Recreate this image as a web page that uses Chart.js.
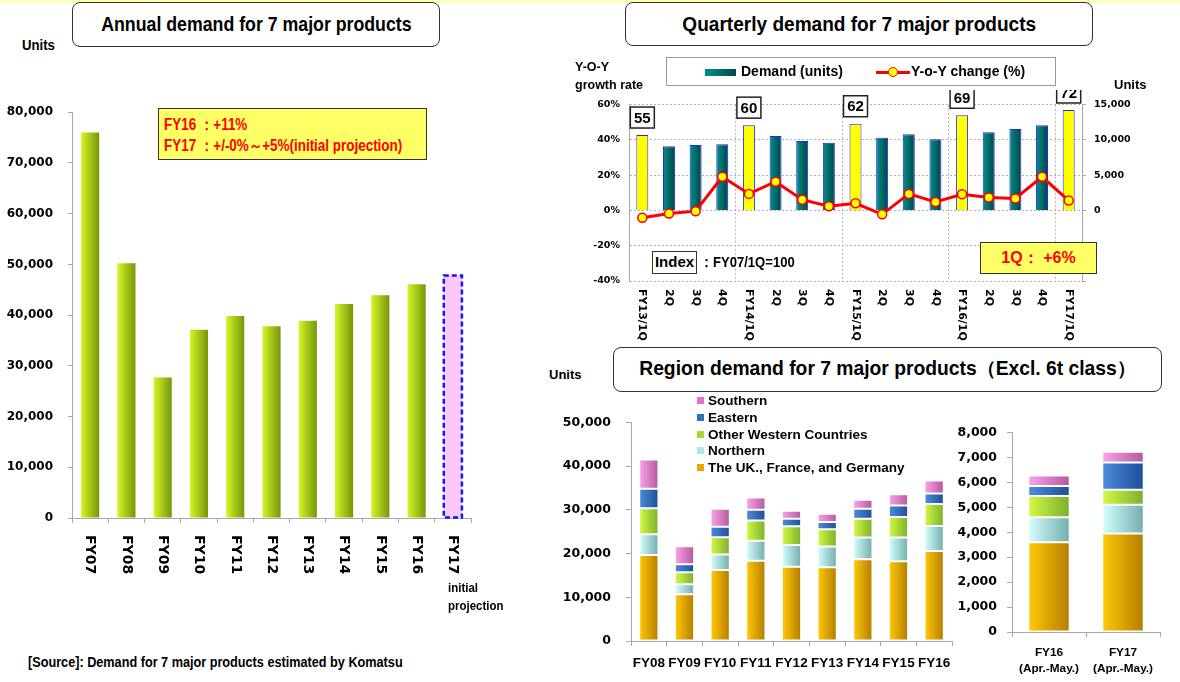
<!DOCTYPE html>
<html>
<head>
<meta charset="utf-8">
<script src="https://cdn.jsdelivr.net/npm/chart.js@4.4.1/dist/chart.umd.min.js"></script>
<style>
  body { margin: 0; background: #fff; }
  #page { position: relative; width: 1180px; height: 682px; overflow: hidden;
          font-family: 'Liberation Sans', Arial, sans-serif; font-weight: bold; color: #000; }
  #page canvas { position: absolute; }
  .abs { position: absolute; white-space: nowrap; }
  .title { position: absolute; box-sizing: border-box; border: 1.5px solid #333; border-radius: 8px;
           background: #fff; text-align: center; white-space: nowrap; }
  .sx { display: inline-block; transform-origin: left center; }
  .title .sx { transform-origin: center center; }
  .sq { display: inline-block; width: 7px; height: 7px; margin-right: 4px; vertical-align: 1px; }
</style>
</head>
<body>
<div id="page">
  <div class="abs" style="left:0;top:0;width:1180px;height:3px;background:#ffffb8"></div>

  <!-- annual -->
  <canvas id="annual" width="480" height="490" style="left:0;top:90px"></canvas>
  <div class="title" style="left:72px;top:2px;width:368px;height:45px;line-height:42px;font-size:20.5px"><span class="sx" style="transform:scaleX(0.865)">Annual demand for 7 major products</span></div>
  <div class="abs" style="left:22px;top:37px;font-size:14px"><span class="sx" style="transform:scaleX(0.94)">Units</span></div>
  <div class="abs" style="left:158px;top:108px;width:269px;height:52px;box-sizing:border-box;border:1.5px solid #333;background:#ffff66;color:#ff0000;font-size:16px;line-height:21px;padding:5px 0 0 5px"><span class="sx" style="transform:scaleX(0.84)">FY16 ：+11%<br>FY17 ：+/-0%～+5%(initial projection)</span></div>
  <div class="abs" style="left:448px;top:579px;font-size:13.5px;line-height:18px"><span class="sx" style="transform:scaleX(0.85)">initial<br>projection</span></div>
  <div class="abs" style="left:28px;top:654px;font-size:14.5px"><span class="sx" style="transform:scaleX(0.874)">[Source]: Demand for 7 major products estimated by Komatsu</span></div>

  <!-- quarterly -->
  <canvas id="quarter" width="600" height="270" style="left:560px;top:90px"></canvas>
  <div class="title" style="left:625px;top:2px;width:468px;height:44px;line-height:41px;font-size:20.5px"><span class="sx" style="transform:scaleX(0.93)">Quarterly demand for 7 major products</span></div>
  <div class="abs" style="left:575px;top:58px;font-size:12.5px;line-height:18px">Y-O-Y<br>growth rate</div>
  <div class="abs" style="left:1114px;top:77px;font-size:13px">Units</div>
  <div class="abs" style="left:666px;top:57px;width:390px;height:29px;box-sizing:border-box;border:1px solid #999;background:#fff;font-size:14px;line-height:27px">
    <span class="abs" style="left:38px;top:11px;width:31px;height:7px;background:linear-gradient(90deg,#00908a,#004a4a)"></span>
    <span class="abs" style="left:74px;top:0">Demand (units)</span>
    <span class="abs" style="left:209px;top:13px;width:34px;height:3px;background:#ff0000"></span>
    <span class="abs" style="left:221px;top:9px;width:8px;height:8px;border-radius:50%;background:#ffff00;border:1.5px solid #ff0000"></span>
    <span class="abs" style="left:244px;top:0">Y-o-Y change (%)</span>
  </div>
  <div class="abs" style="left:652px;top:251px;width:45px;height:23px;box-sizing:border-box;border:1.5px solid #333;text-align:center;font-size:15px;line-height:20px;background:#fff">Index</div>
  <div class="abs" style="left:700px;top:253px;font-size:15px"><span class="sx" style="transform:scaleX(0.87)">：FY07/1Q=100</span></div>
  <div class="abs" style="left:980px;top:242px;width:117px;height:32px;box-sizing:border-box;border:1.5px solid #333;background:#ffff66;color:#ff0000;text-align:center;font-size:16px;line-height:29px">1Q： +6%</div>

  <!-- region -->
  <canvas id="region" width="420" height="282" style="left:540px;top:400px"></canvas>
  <canvas id="period" width="225" height="267" style="left:950px;top:415px"></canvas>
  <div class="title" style="left:613px;top:347px;width:549px;height:45px;line-height:42px;font-size:19.3px">Region demand for 7 major products（Excl. 6t class）</div>
  <div class="abs" style="left:549px;top:367px;font-size:13px">Units</div>
  <div class="abs" style="left:697px;top:393px;font-size:13.5px;line-height:16.8px">
    <span class="sq" style="background:#e070c8"></span>Southern<br>
    <span class="sq" style="background:#3070c0"></span>Eastern<br>
    <span class="sq" style="background:#a8d830"></span>Other Western Countries<br>
    <span class="sq" style="background:#b0e8e8"></span>Northern<br>
    <span class="sq" style="background:#e8a800"></span>The UK., France, and Germany
  </div>
</div>

<script>
// ---- data ----
const annualLabels = ['FY07', 'FY08', 'FY09', 'FY10', 'FY11', 'FY12', 'FY13', 'FY14', 'FY15', 'FY16', 'FY17'];
const annualUnits = [76000, 50200, 27700, 37100, 39800, 37800, 38900, 42200, 43900, 46100, 47800];
const projectionIdx = 10; // FY17 initial projection

const quarterLabels = ['FY13/1Q', '2Q', '3Q', '4Q', 'FY14/1Q', '2Q', '3Q', '4Q',
  'FY15/1Q', '2Q', '3Q', '4Q', 'FY16/1Q', '2Q', '3Q', '4Q', 'FY17/1Q'];
const quarterUnits = [10700, 9100, 9300, 9400, 12100, 10550, 9850, 9600,
  12300, 10300, 10800, 10100, 13500, 11100, 11550, 12100, 14250];
const quarterYoY = [-4.1, -1.7, -0.4, 19.1, 9.4, 16.3, 6.1, 2.4,
  4.1, -2.2, 9.4, 4.8, 9.2, 7.4, 6.8, 19.1, 5.6];
const firstQuarterIdx = [0, 4, 8, 12, 16];
const indexValues = [55, 60, 62, 69, 72];

const regionYears = ['FY08', 'FY09', 'FY10', 'FY11', 'FY12', 'FY13', 'FY14', 'FY15', 'FY16'];
const ukFrGe = [19700, 10700, 16250, 18350, 17000, 16850, 18700, 18250, 20600];
const northern = [4700, 2300, 3550, 4600, 4950, 4750, 5000, 5450, 5700];
const otherWestern = [5950, 2750, 3950, 4650, 4300, 3950, 4300, 4700, 5050];
const eastern = [4500, 1800, 2400, 2450, 1700, 1700, 2250, 2600, 2400];
const southern = [6700, 4150, 4100, 2800, 1850, 1850, 2050, 2600, 2950];

const periodLabels = [['FY16', '(Apr.-May.)'], ['FY17', '(Apr.-May.)']];
const ukFrGePeriod = [3600, 3950];
const northernPeriod = [1000, 1150];
const otherWesternPeriod = [850, 600];
const easternPeriod = [400, 1100];
const southernPeriod = [430, 430];

// ---- shared ----
const SANS = "'Liberation Sans',Arial,sans-serif";
const VERD = "'DejaVu Sans',Verdana,sans-serif";
Chart.defaults.animation = false;
Chart.defaults.color = '#000';
Chart.defaults.plugins.legend.display = false;
Chart.defaults.plugins.tooltip.enabled = false;

const fmt = v => v.toLocaleString('en-US');

// left-to-right shading on each bar
const barGradient = {
  id: 'barGradient',
  beforeDatasetsDraw(chart) {
    const ctx = chart.ctx;
    chart.data.datasets.forEach((ds, i) => {
      if (!ds.grad) return;
      chart.getDatasetMeta(i).data.forEach((el, j) => {
        const pair = Array.isArray(ds.grad[0]) || ds.grad[0] === null ? ds.grad[j] : ds.grad;
        if (!pair) return;
        const g = ctx.createLinearGradient(el.x - el.width / 2, 0, el.x + el.width / 2, 0);
        g.addColorStop(0, pair[0]);
        g.addColorStop(1, pair[1]);
        el.options = Object.assign({}, el.options, { backgroundColor: g });
      });
    });
  }
};

// category labels turned 90deg clockwise
const vertLabels = {
  id: 'vertLabels',
  afterDraw(chart, args, opts) {
    const sx = chart.scales.x, ctx = chart.ctx;
    ctx.save();
    ctx.font = opts.font;
    ctx.fillStyle = '#000';
    ctx.textAlign = 'left';
    ctx.textBaseline = 'middle';
    chart.data.labels.forEach((t, i) => {
      ctx.save();
      ctx.translate(sx.getPixelForValue(i), chart.chartArea.bottom + opts.gap);
      ctx.rotate(Math.PI / 2);
      ctx.fillText(t, 0, 0);
      ctx.restore();
    });
    ctx.restore();
  }
};

const dashedBar = {
  id: 'dashedBar',
  afterDatasetsDraw(chart, args, opts) {
    const el = chart.getDatasetMeta(0).data[opts.index];
    const ctx = chart.ctx;
    ctx.save();
    ctx.strokeStyle = '#1414ff';
    ctx.lineWidth = 2.5;
    ctx.setLineDash([5, 3]);
    ctx.strokeRect(el.x - el.width / 2, el.y, el.width, el.base - el.y);
    ctx.restore();
  }
};

const indexBoxes = {
  id: 'indexBoxes',
  afterDatasetsDraw(chart) {
    const meta = chart.getDatasetMeta(1);
    const ctx = chart.ctx;
    ctx.save();
    ctx.font = 'bold 15px ' + SANS;
    ctx.textAlign = 'center';
    ctx.textBaseline = 'middle';
    firstQuarterIdx.forEach((idx, k) => {
      const el = meta.data[idx];
      const w = 24, h = 21, b = el.y - 7;
      ctx.fillStyle = '#fff';
      ctx.fillRect(el.x - w / 2, b - h, w, h);
      ctx.strokeStyle = '#222';
      ctx.lineWidth = 1.5;
      ctx.strokeRect(el.x - w / 2, b - h, w, h);
      ctx.fillStyle = '#000';
      ctx.fillText(String(indexValues[k]), el.x, b - h / 2 + 1);
    });
    ctx.restore();
  }
};

// ---- annual demand ----
new Chart(document.getElementById('annual'), {
  type: 'bar',
  data: {
    labels: annualLabels,
    datasets: [{
      data: annualUnits,
      backgroundColor: annualLabels.map((l, i) => i === projectionIdx ? '#fbc8fb' : '#a8cc18'),
      grad: annualLabels.map((l, i) => i === projectionIdx ? null : ['#d4f628', '#76960a']),
      barPercentage: 0.5,
      categoryPercentage: 1
    }]
  },
  options: {
    responsive: false,
    layout: { padding: { top: 11, right: 9, left: 0, bottom: 0 } },
    scales: {
      x: {
        ticks: { display: false },
        grid: { drawOnChartArea: false, tickLength: 5, color: '#a8a8a8' },
        border: { color: '#a8a8a8' },
        afterFit: s => { s.height = 62; }
      },
      y: {
        min: 0, max: 80000,
        ticks: { stepSize: 10000, callback: fmt, padding: 15, font: { family: VERD, size: 12, weight: 'bold' } },
        grid: { drawOnChartArea: false, tickLength: 4, color: '#a8a8a8' },
        border: { color: '#a8a8a8' },
        afterFit: s => { s.width = 72; }
      }
    },
    plugins: {
      vertLabels: { font: 'bold 14px ' + VERD, gap: 17 },
      dashedBar: { index: projectionIdx }
    }
  },
  plugins: [barGradient, vertLabels, dashedBar]
});

// ---- quarterly demand ----
new Chart(document.getElementById('quarter'), {
  type: 'bar',
  data: {
    labels: quarterLabels,
    datasets: [{
      type: 'line',
      data: quarterYoY,
      yAxisID: 'y',
      order: 0,
      borderColor: '#ff0000',
      borderWidth: 3,
      pointRadius: 4.5,
      pointBackgroundColor: '#ffff00',
      pointBorderColor: '#ff0000',
      pointBorderWidth: 1.5,
      tension: 0
    }, {
      data: quarterUnits,
      yAxisID: 'y1',
      order: 1,
      backgroundColor: quarterLabels.map((l, i) => firstQuarterIdx.includes(i) ? '#ffff00' : '#006868'),
      grad: quarterLabels.map((l, i) => firstQuarterIdx.includes(i) ? null : ['#00928a', '#004444']),
      borderColor: '#2828e8',
      borderWidth: 1,
      barPercentage: 0.45,
      categoryPercentage: 1
    }]
  },
  options: {
    responsive: false,
    layout: { padding: { top: 11, right: 0, left: 0, bottom: 0 } },
    scales: {
      x: {
        ticks: { display: false },
        grid: {
          drawTicks: false,
          color: c => (c.index > 0 && c.index % 4 === 0) ? '#b4b4b4' : 'rgba(0,0,0,0)'
        },
        border: { display: false, dash: [2, 2] },
        afterFit: s => { s.height = 79; }
      },
      y: {
        position: 'left',
        min: -40, max: 60,
        ticks: { stepSize: 20, callback: v => v + '%', padding: 9, font: { family: VERD, size: 9.5, weight: 'bold' } },
        grid: { drawTicks: false, color: '#b4b4b4' },
        border: { color: '#a8a8a8', dash: [2, 2] },
        afterFit: s => { s.width = 69; }
      },
      y1: {
        position: 'right',
        min: -10000, max: 15000,
        ticks: { stepSize: 5000, callback: v => v < 0 ? '' : fmt(v), padding: 8, font: { family: VERD, size: 9.5, weight: 'bold' } },
        grid: { drawOnChartArea: false, tickLength: 4, color: '#a8a8a8' },
        border: { color: '#a8a8a8' },
        afterFit: s => { s.width = 78; }
      }
    },
    plugins: {
      vertLabels: { font: 'bold 11px ' + VERD, gap: 8 }
    }
  },
  plugins: [barGradient, vertLabels, indexBoxes]
});

// ---- region demand ----
const regionColors = {
  uk: ['#ffca08', '#b47c00'],
  north: ['#d4ffff', '#74acac'],
  west: ['#d4fa44', '#7cae2c'],
  east: ['#4c8edc', '#1e4e98'],
  south: ['#faa4ec', '#b4589c']
};

function stackSets(uk, north, west, east, south, pct) {
  const mk = (data, c) => ({
    data, grad: c, backgroundColor: c[1], borderColor: '#fff', borderWidth: 1, borderSkipped: false,
    barPercentage: pct, categoryPercentage: 1
  });
  return [mk(uk, regionColors.uk), mk(north, regionColors.north), mk(west, regionColors.west),
    mk(east, regionColors.east), mk(south, regionColors.south)];
}

function regionOptions(max, step, yWidth, xHeight, padRight, labelSize, yPad, xPad) {
  return {
    responsive: false,
    layout: { padding: { top: 16, right: padRight, left: 0, bottom: 0 } },
    scales: {
      x: {
        stacked: true,
        ticks: { padding: xPad, maxRotation: 0, autoSkip: false, font: { family: SANS, size: labelSize, weight: 'bold', lineHeight: 1.4 } },
        grid: { drawOnChartArea: false, tickLength: 5, color: '#a8a8a8' },
        border: { color: '#a8a8a8' },
        afterFit: s => { s.height = xHeight; }
      },
      y: {
        stacked: true,
        min: 0, max,
        ticks: { stepSize: step, callback: fmt, padding: yPad, font: { family: VERD, size: 12.5, weight: 'bold' } },
        grid: { drawOnChartArea: false, tickLength: 5, color: '#a8a8a8' },
        border: { color: '#a8a8a8' },
        afterFit: s => { s.width = yWidth; }
      }
    }
  };
}

new Chart(document.getElementById('region'), {
  type: 'bar',
  data: { labels: regionYears, datasets: stackSets(ukFrGe, northern, otherWestern, eastern, southern, 0.54) },
  options: regionOptions(50000, 10000, 91, 41, 8, 13.5, 15, 8),
  plugins: [barGradient]
});

new Chart(document.getElementById('period'), {
  type: 'bar',
  data: { labels: periodLabels, datasets: stackSets(ukFrGePeriod, northernPeriod, otherWesternPeriod, easternPeriod, southernPeriod, 0.56) },
  options: regionOptions(8000, 1000, 62, 50, 15, 11.8, 10, 7),
  plugins: [barGradient]
});
</script>
</body>
</html>
